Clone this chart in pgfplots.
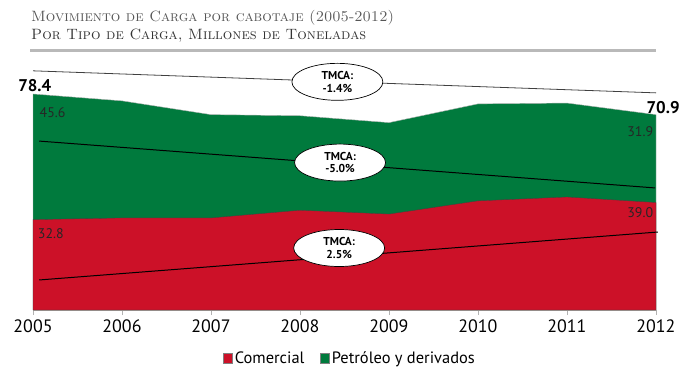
\documentclass[border=0pt]{standalone}
\usepackage{fontspec}
\usepackage{pgfplots}
\pgfplotsset{compat=1.18}
\usetikzlibrary{shapes.geometric}
\newfontfamily\sansf{PT Sans}
\definecolor{cred}{RGB}{204,17,40}
\definecolor{cgreen}{RGB}{0,122,61}
\definecolor{tgray}{RGB}{85,85,85}
\begin{document}
\begin{tikzpicture}[x=1bp,y=1bp]
\useasboundingbox (0,0) rectangle (680,370);
\node[anchor=base west, inner sep=0, text=tgray, font=\fontsize{15}{15}\selectfont\scshape] at (31,349) {Movimiento de Carga por cabotaje (2005-2012)};
\node[anchor=base west, inner sep=0, text=black!80, font=\fontsize{15}{15}\selectfont\scshape] at (31,331) {Por Tipo de Carga, Millones de Toneladas};
\fill[gray!55] (30,318.5) rectangle (656,321.5);
\begin{axis}[
  at={(33bp,60bp)}, anchor=south west,
  scale only axis, width=623bp, height=248bp,
  xmin=2005, xmax=2012, ymin=0, ymax=90,
  clip=false,
  axis y line=none, axis x line*=bottom,
  axis line style={draw=gray!60},
  xtick={2005,...,2012},
  xtick align=outside, major tick length=5bp,
  tick style={draw=gray!60},
  xticklabel style={/pgf/number format/1000 sep=, font=\sansf\fontsize{18}{18}\selectfont, yshift=-1bp},
  /pgf/number format/assume math mode=true,
  legend columns=2,
  legend style={at={(0.509,-0.195)}, anchor=center, draw=none, fill=none,
    font=\sansf\fontsize{16.5}{17}\selectfont,
    /tikz/every odd column/.append style={column sep=0bp},
    /tikz/every even column/.append style={column sep=14bp}},
  legend image code/.code={\draw[#1] (0bp,-5bp) rectangle (9bp,5.5bp);},
]
\addlegendimage{fill=cred, draw=gray}
\addlegendentry{Comercial}
\addlegendimage{fill=cgreen, draw=gray}
\addlegendentry{Petróleo y derivados}
% total (green top)
\addplot[fill=cgreen, draw=gray!60, forget plot] coordinates {
(2005,78.4) (2006,75.9) (2007,70.9) (2008,70.5) (2009,68.0) (2010,74.8) (2011,75.1) (2012,70.9)} \closedcycle;
% comercial (red)
\addplot[fill=cred, draw=gray!50!black, line width=0.3pt, forget plot] coordinates {
(2005,32.8) (2006,33.4) (2007,33.4) (2008,36.2) (2009,34.8) (2010,39.6) (2011,41.0) (2012,39.0)} \closedcycle;
% trend lines
\addplot[black!75, line width=0.8pt, forget plot] coordinates {(2005,86.8) (2012,78.8)};
\addplot[black, line width=1pt, forget plot] coordinates {(2005.07,61.3) (2011.99,44.3)};
\addplot[black, line width=1pt, forget plot] coordinates {(2005.07,10.9) (2012.02,28.3)};
% ellipses
\tikzset{tm/.style={ellipse, draw=black, line width=0.7pt, fill=white, minimum width=91bp, minimum height=37bp, inner sep=0pt, align=center, font=\sansf\bfseries\fontsize{11.5}{12.5}\selectfont}}
\node[tm] at (axis cs:2008.42,82.8) {TMCA:\\-1.4\%};
\node[tm] at (axis cs:2008.45,53.5) {TMCA:\\-5.0\%};
\node[tm] at (axis cs:2008.44,22.5) {TMCA:\\2.5\%};
% value labels
\node[font=\sansf\fontsize{14}{14}\selectfont, text=black!85] at (axis cs:2005.22,71.5) {45.6};
\node[font=\sansf\fontsize{14}{14}\selectfont, text=black!85] at (axis cs:2005.20,27.9) {32.8};
\node[anchor=east, inner sep=0pt, font=\sansf\fontsize{14}{14}\selectfont, text=black!85] at (axis cs:2011.97,64.6) {31.9};
\node[anchor=east, inner sep=0pt, font=\sansf\fontsize{14}{14}\selectfont, text=black!85] at (axis cs:2011.97,35.4) {39.0};
\node[font=\sansf\bfseries\fontsize{17}{17}\selectfont] at (axis cs:2005.02,81.3) {78.4};
\node[font=\sansf\bfseries\fontsize{17}{17}\selectfont] at (axis cs:2012.08,73.6) {70.9};
\end{axis}
\end{tikzpicture}
\end{document}
